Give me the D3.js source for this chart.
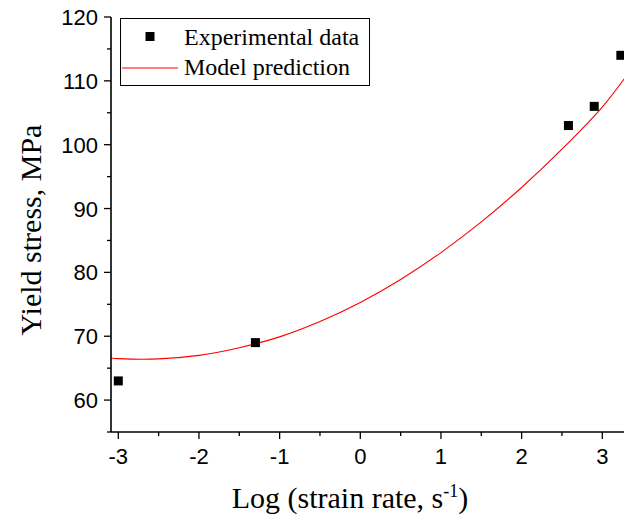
<!DOCTYPE html>
<html><head><meta charset="utf-8">
<script src="https://cdn.jsdelivr.net/npm/d3@7"></script>
<style>body{margin:0;background:#fff}svg{display:block}</style>
</head><body>
<svg id="c" width="624" height="524"></svg>
<script>
const expX = [-3.0, -1.3, 2.58, 2.9, 3.23];
const expY = [63, 69, 103, 106, 114];
const modelX = [-3.09, -3.0, -2.5, -2.0, -1.5, -1.0, -0.5, 0.0, 0.5, 1.0, 1.5, 2.0, 2.5, 3.0, 3.3];
const modelY = [66.6, 66.5, 66.45, 67.0, 68.2, 69.9, 72.3, 75.3, 78.9, 83.1, 87.9, 93.3, 99.3, 105.9, 110.8];
const xTicks = [-3, -2, -1, 0, 1, 2, 3];
const yTicks = [60, 70, 80, 90, 100, 110, 120];
const legendLabels = ["Experimental data", "Model prediction"];
const xTitle = "Log (strain rate, s";
const yTitle = "Yield stress, MPa";

const svg = d3.select("#c");
const L = 111, T = 17, B = 432;
const x = d3.scaleLinear().domain([-3, 3]).range([118.3, 602.3]);
const y = d3.scaleLinear().domain([55, 120]).range([B, T]);

svg.append("defs").append("clipPath").attr("id","clip")
  .append("rect").attr("x", L).attr("y", T).attr("width", 624 - L).attr("height", B - T);

// model line
const line = d3.line().x((d,i)=>x(modelX[i])).y((d,i)=>y(modelY[i])).curve(d3.curveCatmullRom);
svg.append("path").datum(modelY).attr("d", line).attr("fill","none")
  .attr("stroke","#ff0000").attr("stroke-width",1.1).attr("clip-path","url(#clip)");

// points
svg.selectAll("rect.pt").data(expY).enter().append("rect").attr("class","pt")
  .attr("x",(d,i)=>x(expX[i])-4.5).attr("y",d=>y(d)-4.5).attr("width",9).attr("height",9)
  .attr("fill","#000");

// axes
const xMinor = d3.range(-3, 3.51, 0.5);
const yMinor = d3.range(55, 120.1, 5);
const xa = svg.append("g").attr("transform",`translate(0,${B})`);
xa.append("line").attr("x1",L).attr("x2",624).attr("stroke","#000").attr("stroke-width",1.6);
xa.selectAll("line.mn").data(xMinor).enter().append("line").attr("class","mn")
  .attr("x1",d=>x(d)).attr("x2",d=>x(d)).attr("y1",0).attr("y2",d=>Number.isInteger(d)?7:4)
  .attr("stroke","#000").attr("stroke-width",1.3);
xa.selectAll("text").data(xTicks).enter().append("text")
  .attr("x",d=>x(d)).attr("y",32).attr("text-anchor","middle")
  .attr("font-family","Liberation Sans, Arial, sans-serif").attr("font-size",22)
  .text(d=>d<0?"-"+Math.abs(d):d);

const ya = svg.append("g").attr("transform",`translate(${L},0)`);
ya.append("line").attr("y1",T).attr("y2",B).attr("stroke","#000").attr("stroke-width",1.6);
ya.selectAll("line.mn").data(yMinor).enter().append("line").attr("class","mn")
  .attr("y1",d=>y(d)).attr("y2",d=>y(d)).attr("x1",0).attr("x2",d=>d%10===0?-7:-4)
  .attr("stroke","#000").attr("stroke-width",1.3);
ya.selectAll("text").data(yTicks).enter().append("text")
  .attr("x",-13).attr("y",d=>y(d)+8).attr("text-anchor","end")
  .attr("font-family","Liberation Sans, Arial, sans-serif").attr("font-size",22)
  .text(d=>d);

// titles
const xt = svg.append("text").attr("x",350).attr("y",508).attr("text-anchor","middle")
  .attr("font-family","Liberation Serif, Times New Roman, serif").attr("font-size",30);
xt.append("tspan").text(xTitle);
xt.append("tspan").attr("dy",-11).attr("font-size",18).text("-1");
xt.append("tspan").attr("dy",11).text(")");
svg.append("text").attr("transform","translate(41,230) rotate(-90)").attr("text-anchor","middle")
  .attr("font-family","Liberation Serif, Times New Roman, serif").attr("font-size",30).text(yTitle);

// legend
const lg = svg.append("g");
lg.append("rect").attr("x",120.5).attr("y",18.5).attr("width",249).attr("height",67)
  .attr("fill","#fff").attr("stroke","#000").attr("stroke-width",1);
lg.append("rect").attr("x",145.5).attr("y",32).attr("width",9).attr("height",9).attr("fill","#000");
lg.append("line").attr("x1",122).attr("x2",178).attr("y1",68).attr("y2",68).attr("stroke","#ff0000").attr("stroke-width",1.1);
lg.selectAll("text").data(legendLabels).enter().append("text")
  .attr("x",184).attr("y",(d,i)=>45+i*30)
  .attr("font-family","Liberation Serif, Times New Roman, serif").attr("font-size",24)
  .text(d=>d);
</script>
</body></html>
